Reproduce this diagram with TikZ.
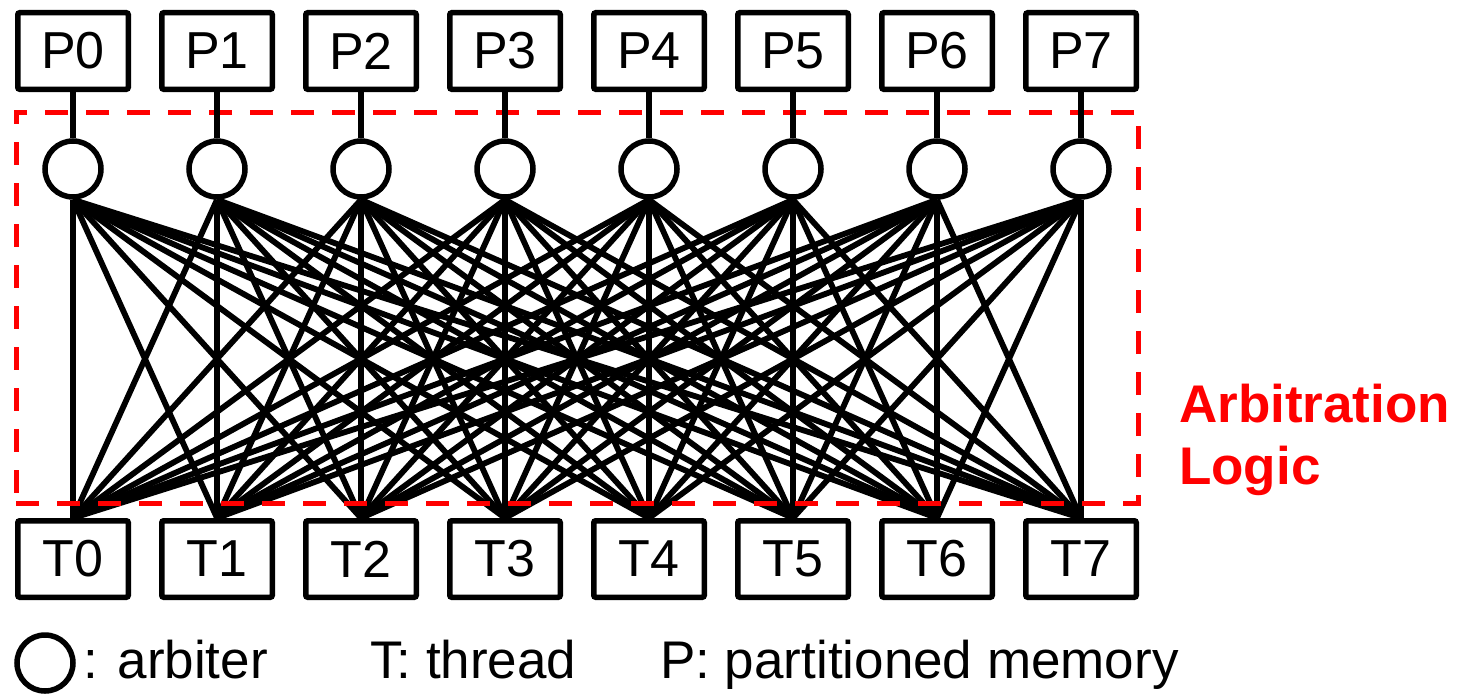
\documentclass[tikz,border=0pt]{standalone}
\usepackage{fontspec}
\setmainfont{Liberation Sans}
\begin{document}
\begin{tikzpicture}[x=1pt,y=-1pt,
  box/.style={draw, line width=5.5pt, rounded corners=2pt, minimum width=110.5pt, minimum height=76.5pt, inner sep=0pt, font=\fontsize{52}{60}\selectfont},
  arb/.style={circle, draw, line width=5.5pt, minimum size=56pt, inner sep=0pt},
  wire/.style={line width=5.8pt},
  region/.style={draw=red, line width=5pt, dash pattern=on 23pt off 18pt, minimum width=1122pt, minimum height=391pt, inner sep=0pt},
  lbl/.style={anchor=base west, inner sep=0pt, font=\fontsize{53}{60}\selectfont},
  redlbl/.style={anchor=base west, inner sep=0pt, text=red, font=\fontsize{53}{60}\selectfont\bfseries}]
\useasboundingbox (0,0) rectangle (1466,693);
\foreach \i in {0,...,7} {
  \node[box] (P\i) at ({73+144*\i},51) {P\i};
  \node[arb] (A\i) at ({73+144*\i},169) {};
  \node[box] (T\i) at ({73+144*\i},559) {T\i};
}
\foreach \i in {0,...,7} {
  \foreach \j in {0,...,7} {
    \draw[wire] (A\i.south) -- (T\j.north);
  }
}
\node[region] (logic) at (577,307.5) {};
\foreach \i in {0,...,7} {
  \draw[wire] (P\i) -- (A\i);
}
\node[redlbl] (arbtxt) at (1179,422) {Arbitration};
\node[redlbl] (logtxt) at (1179,484) {Logic};
\node[arb] (legc) at (45,663) {};
\node[lbl] (legarb) at (83,678) {: arbiter};
\node[lbl] (legt) at (370,678) {T: thread};
\node[lbl] (legp) at (660,678) {P: partitioned memory};
\end{tikzpicture}
\end{document}
